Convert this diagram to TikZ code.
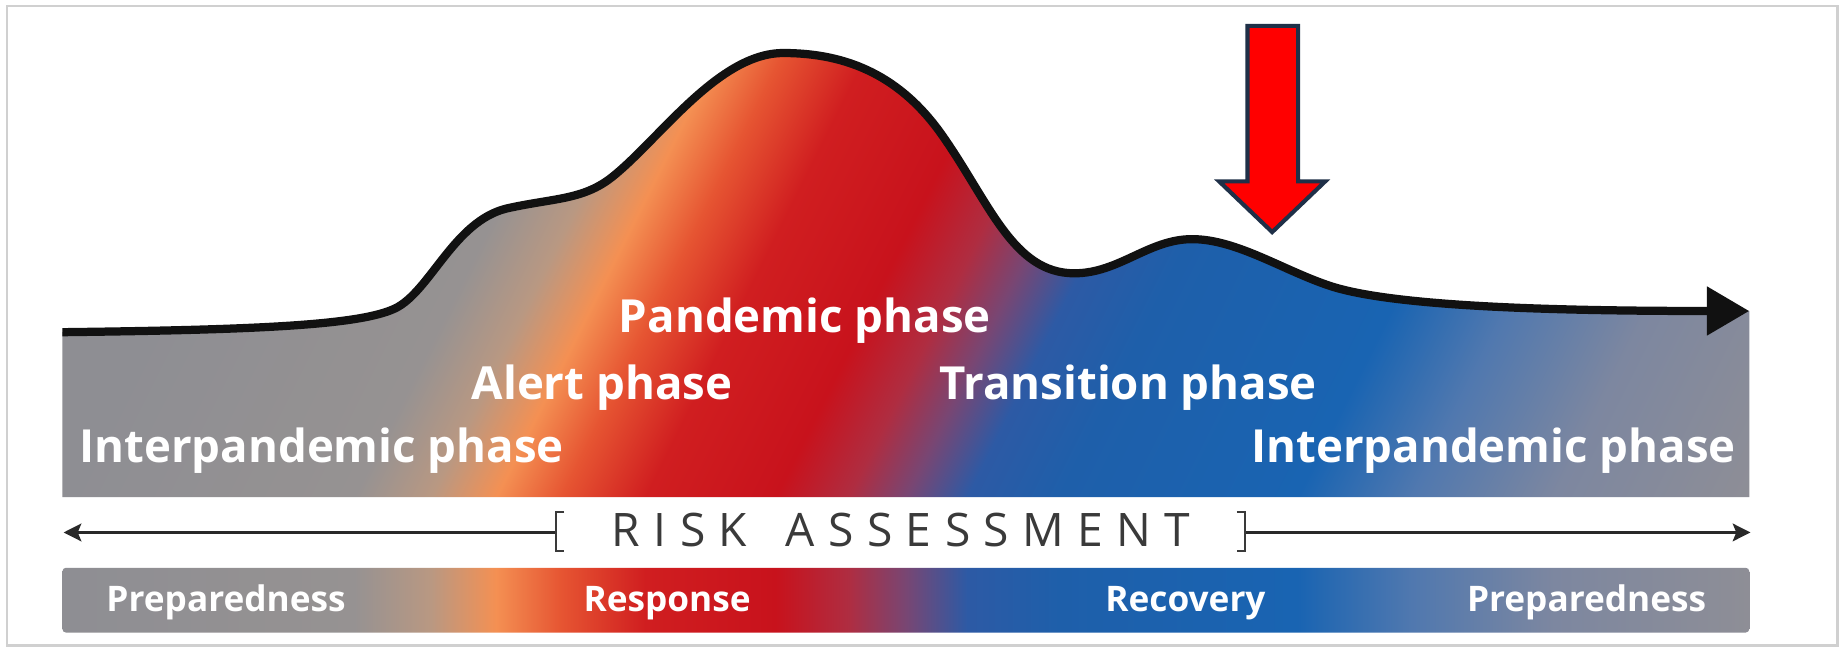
\documentclass[tikz,border=0pt]{standalone}
\usepackage{fontspec}
\newfontfamily\lblfont{Open Sans}
\usetikzlibrary{arrows.meta}
\pgfdeclarehorizontalshading{phases}{100bp}{rgb(0bp)=(.557,.557,.576); rgb(25bp)=(.557,.557,.576); rgb(31bp)=(.557,.557,.576); rgb(38.6bp)=(.588,.573,.573); rgb(40.6bp)=(.725,.596,.510); rgb(42.3bp)=(.957,.565,.325); rgb(44bp)=(.902,.333,.196); rgb(46.2bp)=(.816,.118,.125); rgb(49.6bp)=(.784,.071,.110); rgb(51.5bp)=(.686,.176,.255); rgb(53bp)=(.471,.275,.451); rgb(54.6bp)=(.176,.353,.647); rgb(57bp)=(.118,.373,.667); rgb(63.2bp)=(.098,.392,.698); rgb(66.2bp)=(.314,.471,.686); rgb(69.9bp)=(.490,.529,.627); rgb(75bp)=(.557,.557,.588); rgb(100bp)=(.557,.557,.588)}
\definecolor{framegray}{HTML}{D0D0D0}
\definecolor{navy}{HTML}{1F3048}
\definecolor{riskgray}{HTML}{3A3A3A}
\definecolor{curveblack}{HTML}{111111}
\newcommand{\lsp}{\hspace{0.29em}}
\begin{document}
\begin{tikzpicture}[x=0.5pt,y=-0.5pt,
  biglabel/.style={text=white, font=\lblfont\bfseries\fontsize{19.35}{22}\selectfont, inner sep=0pt},
  smalllabel/.style={text=white, font=\lblfont\bfseries\fontsize{14.95}{17}\selectfont, inner sep=0pt},
  risktext/.style={text=riskgray, font=\lblfont\fontsize{19.6}{22}\selectfont, inner sep=0pt},
  riskline/.style={draw=curveblack!90, line width=1.2pt, -{Stealth[length=7.5pt,width=7.5pt,inset=1.5pt]}},
  bracketline/.style={draw=riskgray, line width=0.8pt},
  curveline/.style={draw=curveblack, line width=3.5pt, line join=round, -{Triangle[length=18pt,width=20pt]}},
  bigarrow/.style={draw=navy, fill=red, line width=1.75pt, line join=miter}]
\useasboundingbox (0,0) rectangle (1568,554);
\fill[white] (0,0) rectangle (1568,554);
\draw[framegray, line width=1pt] (6,5) rectangle (1560,548);

% upper band with slanted gradient
\begin{scope}
  \clip (53,422) -- (53,282) .. controls (220,280) and (305,276) .. (335,262)
    .. controls (365,248) and (385,188) .. (430,177)
    .. controls (470,168) and (495,170) .. (520,150)
    .. controls (560,118) and (610,45) .. (665,45)
    .. controls (720,45) and (765,65) .. (800,115)
    .. controls (840,172) and (860,232) .. (912,232)
    .. controls (950,232) and (975,203) .. (1012,203)
    .. controls (1050,203) and (1090,230) .. (1130,243)
    .. controls (1180,259) and (1300,264) .. (1485,264)
    -- (1485,422) -- cycle;
  \begin{scope}[transform canvas={xslant=0.5}]
    \shade[shading=phases] (69,25) rectangle (1696,425);
  \end{scope}
\end{scope}

% lower band
\begin{scope}
  \clip[rounded corners=1.5pt] (53,482) rectangle (1485,537);
  \shade[shading=phases] (-142,478) rectangle (1485,540);
\end{scope}

% curve
\draw[curveline] (53,282) .. controls (220,280) and (305,276) .. (335,262)
    .. controls (365,248) and (385,188) .. (430,177)
    .. controls (470,168) and (495,170) .. (520,150)
    .. controls (560,118) and (610,45) .. (665,45)
    .. controls (720,45) and (765,65) .. (800,115)
    .. controls (840,172) and (860,232) .. (912,232)
    .. controls (950,232) and (975,203) .. (1012,203)
    .. controls (1050,203) and (1090,230) .. (1130,243)
    .. controls (1180,259) and (1300,264) .. (1485,264);

% phase labels
\node[biglabel, anchor=base west] (pandemic) at (525,282) {Pandemic phase};
\node[biglabel, anchor=base west] (alert) at (400,339) {Alert phase};
\node[biglabel, anchor=base west] (transition) at (797,339) {Transition phase};
\node[biglabel, anchor=base west] (interL) at (67,393) {Interpandemic phase};
\node[biglabel, anchor=base east] (interR) at (1474,393) {Interpandemic phase};

% risk assessment
\node[risktext, anchor=base] (risk) at (765,464) {R\lsp I\lsp S\lsp K\lsp\ \lsp A\lsp S\lsp S\lsp E\lsp S\lsp S\lsp M\lsp E\lsp N\lsp T};
\coordinate (lbr) at (472,452);
\coordinate (rbr) at (1057,452);
\coordinate (ltip) at (54,452);
\coordinate (rtip) at (1486,452);
\draw[riskline] (lbr) -- (ltip);
\draw[riskline] (rbr) -- (rtip);
\draw[bracketline] (479,435) -- (472,435) -- (472,468) -- (479,468);
\draw[bracketline] (1050,435) -- (1057,435) -- (1057,468) -- (1050,468);

% bottom labels
\node[smalllabel, anchor=base west] (prep1) at (90,519) {Preparedness};
\node[smalllabel, anchor=base west] (resp) at (495,519) {Response};
\node[smalllabel, anchor=base west] (reco) at (938,519) {Recovery};
\node[smalllabel, anchor=base west] (prep2) at (1245,519) {Preparedness};

% red arrow
\draw[bigarrow] (1059,22) -- (1102,22) -- (1102,154) -- (1125,154) -- (1080,197) -- (1035,154) -- (1059,154) -- cycle;
\end{tikzpicture}
\end{document}
